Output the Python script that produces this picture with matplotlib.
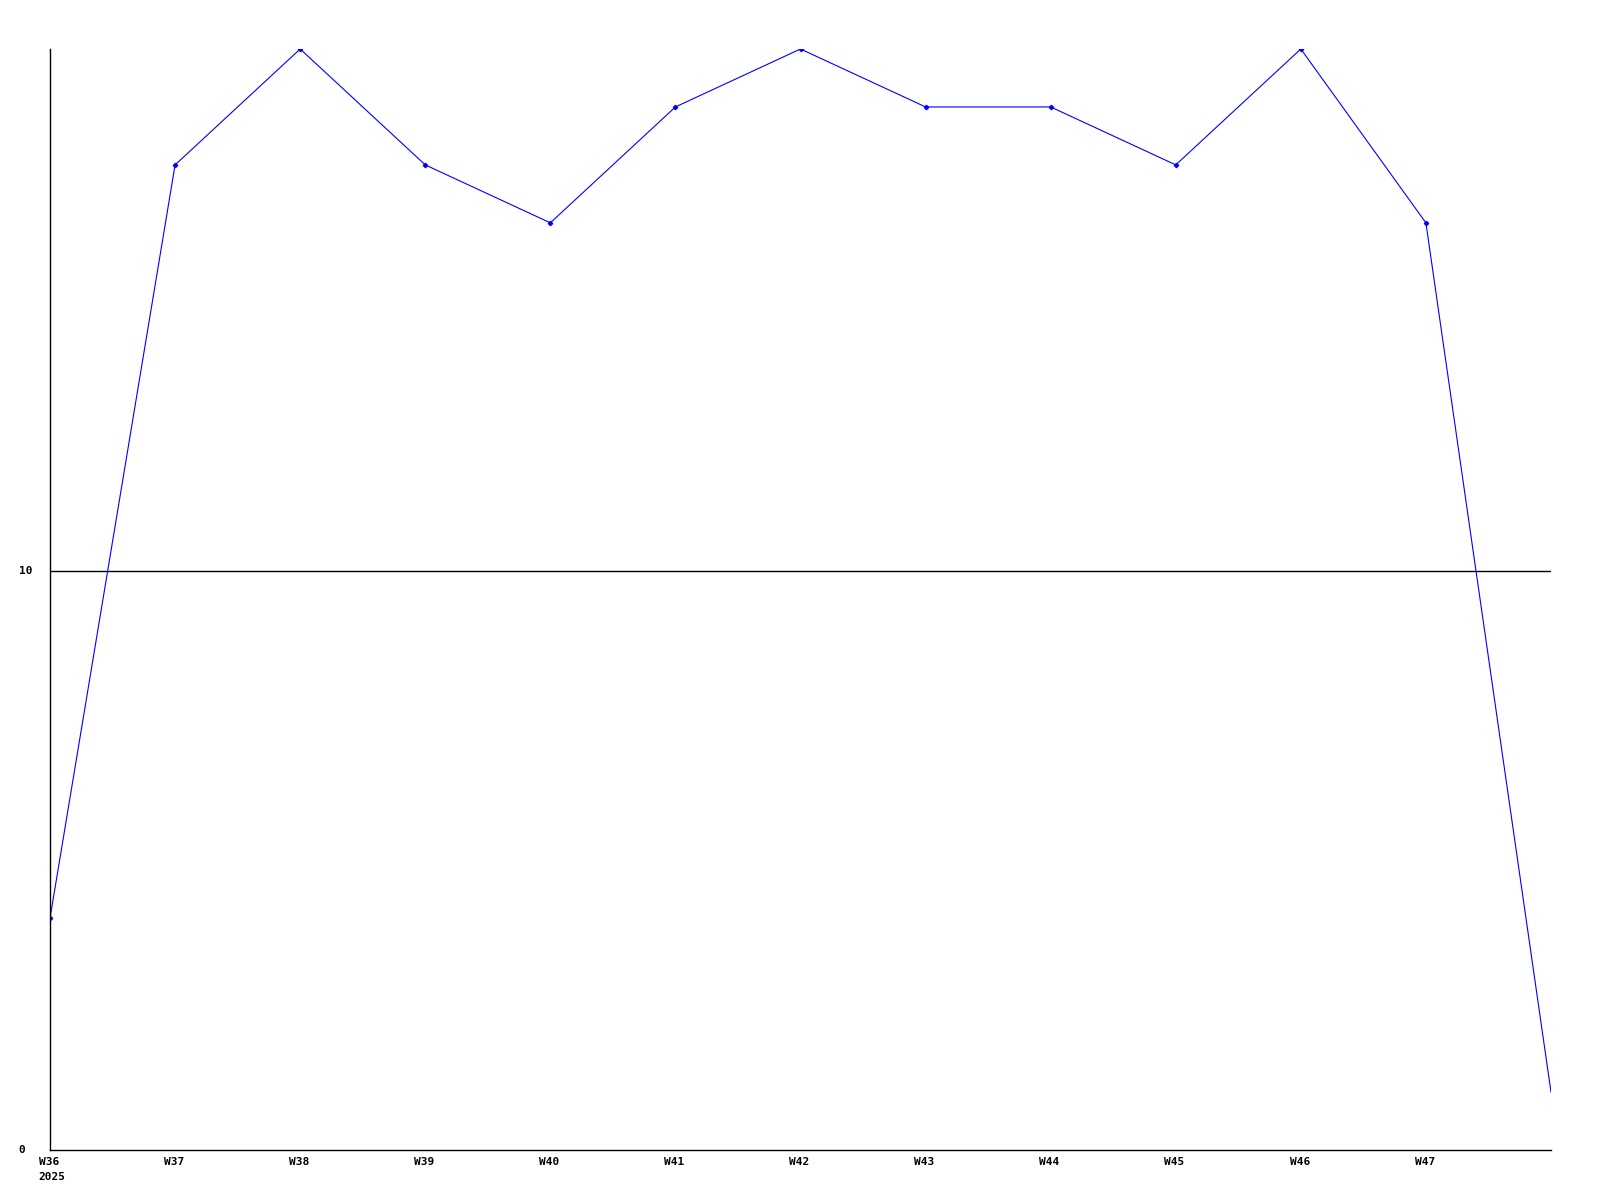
import matplotlib
matplotlib.use("Agg")
import matplotlib.pyplot as plt

weeks = ["W36", "W37", "W38", "W39", "W40", "W41", "W42", "W43", "W44", "W45", "W46", "W47", "W48"]
values = [4, 17, 19, 17, 16, 18, 19, 18, 18, 17, 19, 16, 1]
year_label = "2025"
ref_value = 10

fig = plt.figure(figsize=(16, 12), dpi=100)
ax = fig.add_axes([50 / 1600, 50 / 1200, 1501 / 1600, 1101 / 1200])

x = list(range(len(values)))
ax.plot(x, values, color="#0000ff", linewidth=0.8, marker="D", markersize=2.2,
        markevery=list(range(len(values) - 1)))
ax.axhline(ref_value, color="black", linewidth=1.0, zorder=1)

ax.set_xlim(0, len(values) - 1)
ax.set_ylim(0, 19)

for side in ["top", "right"]:
    ax.spines[side].set_visible(False)
for side in ["left", "bottom"]:
    ax.spines[side].set_linewidth(1.0)

font = dict(family="DejaVu Sans Mono", fontweight="bold", fontsize=8)
ax.set_xticks(x[:-1])
ax.set_xticklabels([])
ax.set_yticks([0, ref_value])
ax.set_yticklabels([])
ax.tick_params(length=0)

# labels sit left-aligned under each week, like the original renderer
for i, w in enumerate(weeks[:-1]):
    ax.text(i - 0.09, -0.12, w, ha="left", va="top", **font)
ax.text(-0.09, -0.38, year_label, ha="left", va="top", **font)
for v in [0, ref_value]:
    ax.text(-0.25, v, str(v), ha="left", va="center", **font)

fig.savefig("out.png", dpi=100)
